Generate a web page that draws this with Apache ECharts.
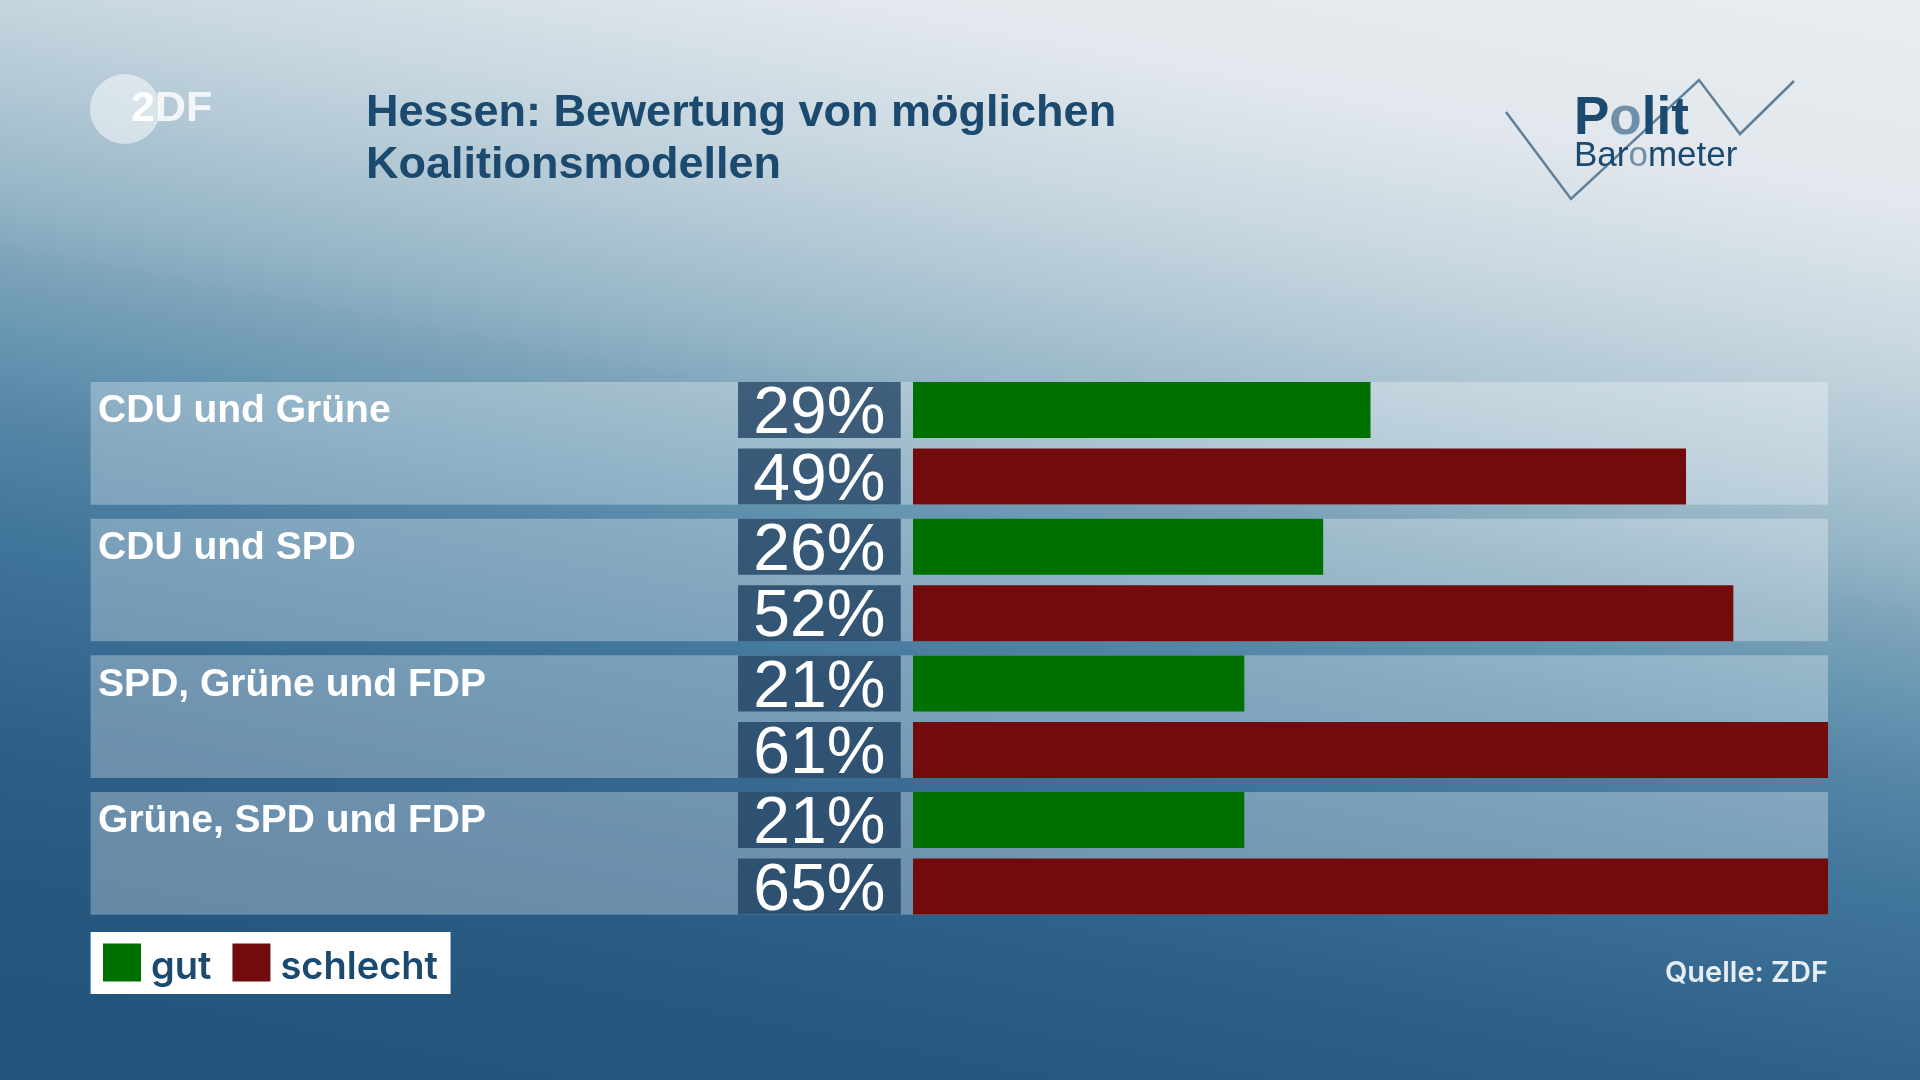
<!DOCTYPE html>
<html><head><meta charset="utf-8">
<script src="https://cdn.jsdelivr.net/npm/echarts@6/dist/echarts.min.js"></script>
<style>html,body{margin:0;padding:0;width:1920px;height:1080px;overflow:hidden}#c{width:1920px;height:1080px}</style>
</head><body><div id="c"></div>
<script>
const categories = ['CDU und Grüne', 'CDU und SPD', 'SPD, Grüne und FDP', 'Grüne, SPD und FDP'];
const gutValues = [29, 26, 21, 21];
const schlechtValues = [49, 52, 61, 65];
const seriesNames = ['gut', 'schlecht'];
const titleLines = ['Hessen: Bewertung von möglichen', 'Koalitionsmodellen'];
const sourceText = 'Quelle: ZDF';
const axisMax = 58;
const panelBase = [0, 0, 0, 0];

const chart = echarts.init(document.getElementById('c'), null, {renderer: 'canvas'});

const GRID_TOP = 375, GRID_BOTTOM = 158.3;
const DARK = '#1c4a6e';

const pctLabel = {
  show: true,
  position: [-93.6, 0],
  align: 'center',
  verticalAlign: 'top',
  formatter: p => p.value + '%',
  color: '#ffffff',
  fontFamily: 'Liberation Sans',
  fontSize: 66,
  width: 162.7,
  height: 46,
  lineHeight: 46,
  padding: [10, 0, 0, 0],
  backgroundColor: 'rgba(24,58,92,0.74)'
};

const option = {
  animation: false,
  graphic: [
    {type: 'rect', z: -10, silent: true, shape: {x: 0, y: 0, width: 1920, height: 1080},
      style: {fill: new echarts.graphic.LinearGradient(1920, 0, 1672, 1300, [
        {offset: 0, color: '#e8edf0'},
        {offset: 0.16, color: '#e1e7ec'},
        {offset: 0.27, color: '#c6d6df'},
        {offset: 0.34, color: '#b0c7d4'},
        {offset: 0.42, color: '#94b4c6'},
        {offset: 0.47, color: '#7ba2b8'},
        {offset: 0.53, color: '#6494b0'},
        {offset: 0.58, color: '#5586a6'},
        {offset: 0.66, color: '#42779c'},
        {offset: 0.74, color: '#376b92'},
        {offset: 0.82, color: '#2d6089'},
        {offset: 0.93, color: '#25577f'},
        {offset: 1, color: '#23557e'}
      ], true)}},
    // ZDF logo
    {type: 'circle', z: 5, silent: true, shape: {cx: 125, cy: 109, r: 35}, style: {fill: 'rgba(255,255,255,0.5)'}},
    {type: 'text', z: 6, silent: true, x: 131, y: 109,
      style: {text: '{a|2}{b|DF}', verticalAlign: 'middle',
        rich: {a: {fontFamily: 'Liberation Sans', fontWeight: 'bold', fontSize: 43, fill: '#ffffff'},
               b: {fontFamily: 'Liberation Sans', fontWeight: 'bold', fontSize: 43, fill: 'rgba(255,255,255,0.82)'}}}},
    // Title
    {type: 'text', z: 6, silent: true, x: 366, y: 114,
      style: {text: titleLines[0], fontFamily: 'Liberation Sans', fontWeight: 'bold', fontSize: 45, fill: DARK, verticalAlign: 'middle'}},
    {type: 'text', z: 6, silent: true, x: 366, y: 166,
      style: {text: titleLines[1], fontFamily: 'Liberation Sans', fontWeight: 'bold', fontSize: 45, fill: DARK, verticalAlign: 'middle'}},
    // Politbarometer logo
    {type: 'polyline', z: 5, silent: true,
      shape: {points: [[1506, 112], [1571, 199], [1699, 80], [1740, 134], [1794, 81]]},
      style: {stroke: '#5f8098', lineWidth: 2.5, fill: null}},
    {type: 'text', z: 6, silent: true, x: 1574, y: 119,
      style: {text: '{d|P}{l|o}{d|lit}', verticalAlign: 'middle',
        rich: {d: {fontFamily: 'Liberation Sans', fontWeight: 'bold', fontSize: 53, fill: '#1b4a70'},
               l: {fontFamily: 'Liberation Sans', fontWeight: 'bold', fontSize: 53, fill: '#6f90a8'}}}},
    {type: 'text', z: 6, silent: true, x: 1574, y: 156,
      style: {text: '{d|Bar}{l|o}{d|meter}', verticalAlign: 'middle',
        rich: {d: {fontFamily: 'Liberation Sans', fontSize: 35, fill: '#1b4a70'},
               l: {fontFamily: 'Liberation Sans', fontSize: 35, fill: '#6f90a8'}}}},
    // Source
    {type: 'text', z: 6, silent: true, x: 1828, y: 973,
      style: {text: sourceText, fontFamily: 'Inter', fontWeight: 600, fontSize: 29, fill: '#e6edf5', align: 'right', verticalAlign: 'middle'}}
  ],
  legend: {
    data: seriesNames,
    left: 90.6, top: 932,
    orient: 'horizontal',
    backgroundColor: '#ffffff',
    padding: [11.5, 12.6, 7.5, 12.4],
    itemWidth: 38, itemHeight: 38, itemGap: 21,
    icon: 'rect',
    selectedMode: false,
    formatter: name => '{t|' + name + '}',
    textStyle: {
      fontFamily: 'Inter', fontWeight: 600, fontSize: 38, color: DARK,
      rich: {t: {fontFamily: 'Inter', fontWeight: 600, fontSize: 38, lineHeight: 38, color: DARK, padding: [5, 0, -5, 5]}}
    }
  },
  grid: [
    {left: 913, right: 92, top: GRID_TOP, bottom: GRID_BOTTOM, containLabel: false},
    {left: 90.6, right: 92, top: GRID_TOP, bottom: GRID_BOTTOM, containLabel: false}
  ],
  xAxis: [
    {type: 'value', gridIndex: 0, min: 0, max: axisMax, show: false, splitLine: {show: false}},
    {type: 'value', gridIndex: 1, min: 0, max: 1, show: false, splitLine: {show: false}}
  ],
  yAxis: [
    {type: 'category', gridIndex: 0, data: categories, inverse: true, show: false},
    {type: 'category', gridIndex: 1, data: categories, inverse: true, show: false}
  ],
  series: [
    {name: 'panel', type: 'bar', xAxisIndex: 1, yAxisIndex: 1, data: panelBase, barWidth: 122.7, z: 1, silent: true,
      showBackground: true, backgroundStyle: {color: 'rgba(255,255,255,0.3)'},
      itemStyle: {color: 'rgba(0,0,0,0)'},
      label: {show: true, position: [7.5, 9], align: 'left', verticalAlign: 'top', formatter: p => p.name,
        color: '#ffffff', fontFamily: 'Liberation Sans', fontWeight: 'bold', fontSize: 39, lineHeight: 41}},
    {name: seriesNames[0], type: 'bar', xAxisIndex: 0, yAxisIndex: 0, data: gutValues, barWidth: 56, barGap: '18.75%', z: 3,
      itemStyle: {color: '#007000'}, label: pctLabel},
    {name: seriesNames[1], type: 'bar', xAxisIndex: 0, yAxisIndex: 0, data: schlechtValues, barWidth: 56, barGap: '18.75%', z: 3,
      itemStyle: {color: '#720c0c'}, label: pctLabel}
  ]
};
chart.setOption(option);
</script></body></html>
